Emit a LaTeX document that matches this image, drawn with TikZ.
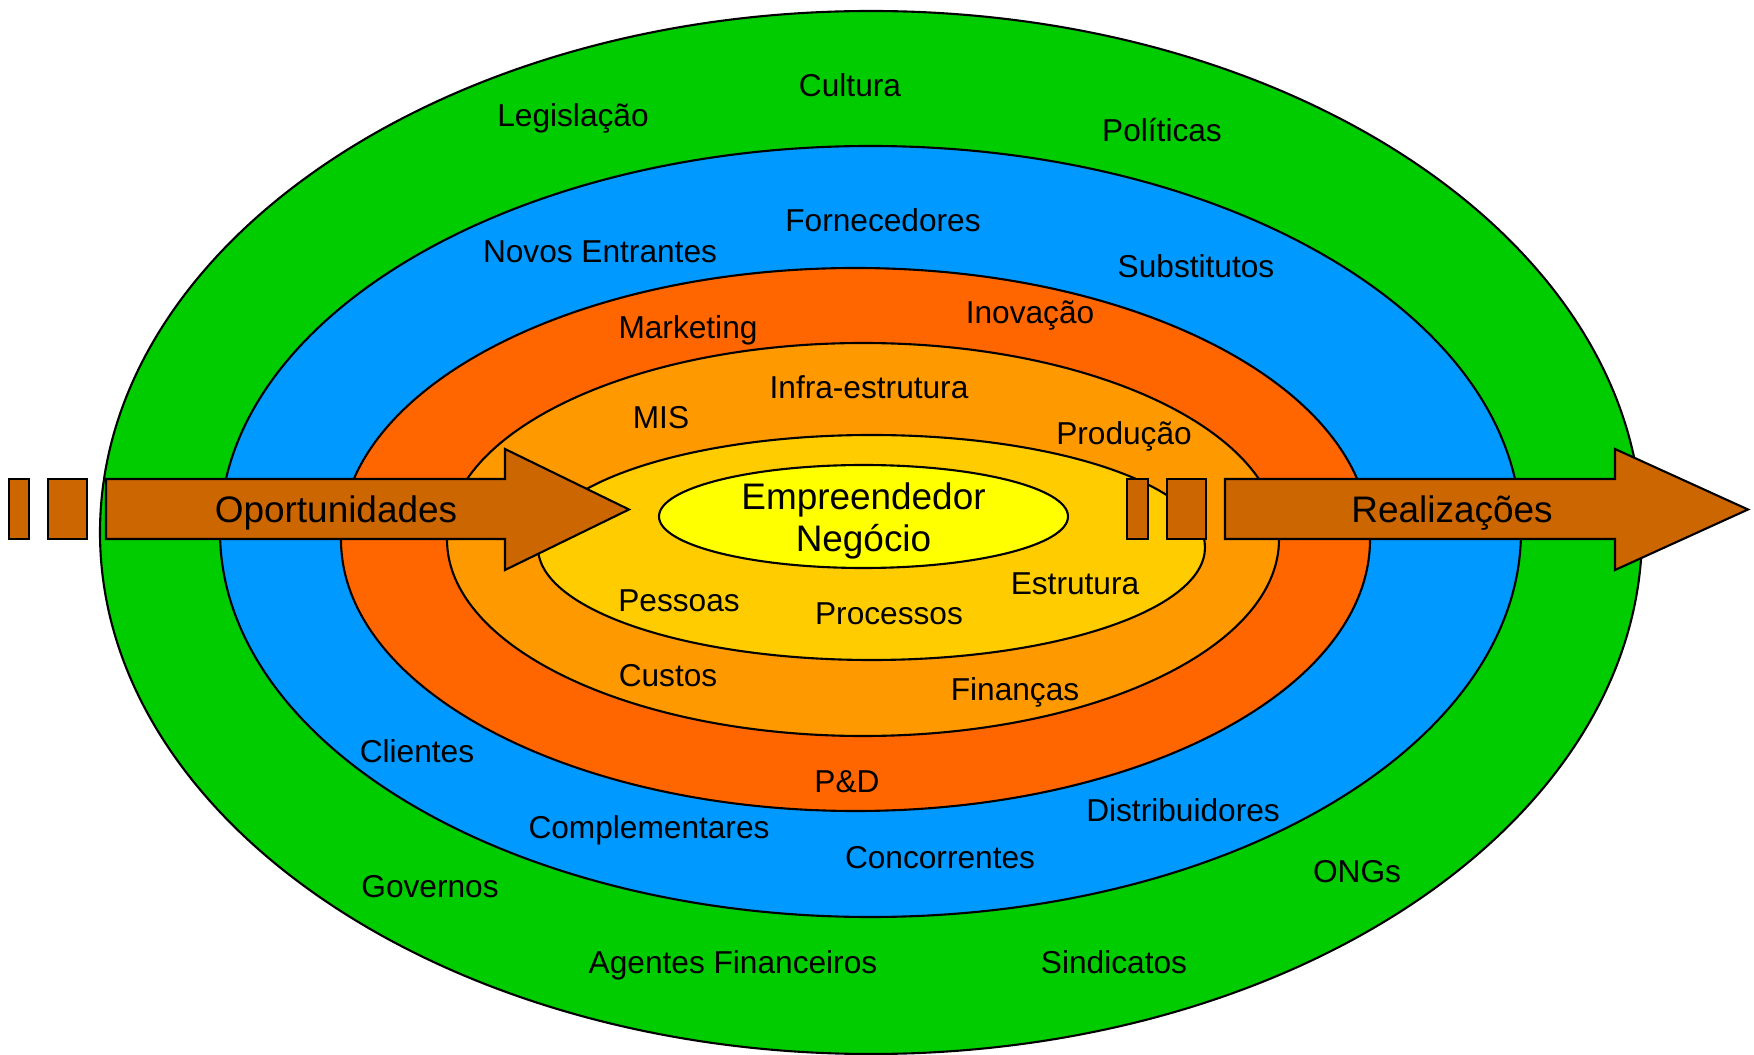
\documentclass[tikz,border=0pt]{standalone}
\usepackage{fontspec}
\setmainfont{Liberation Sans}
\definecolor{envgreen}{HTML}{00CC00}
\definecolor{mktblue}{HTML}{0099FF}
\definecolor{areared}{HTML}{FF6600}
\definecolor{supporange}{HTML}{FF9900}
\definecolor{intgold}{HTML}{FFCC00}
\definecolor{coreyellow}{HTML}{FFFF00}
\definecolor{flowbrown}{HTML}{CC6600}
\begin{document}
\begin{tikzpicture}[x=0.01cm, y=-0.01cm, line width=0.6pt]
\tikzstyle{ring}=[draw=black]
\tikzstyle{lb}=[draw=none, fill=none, inner sep=0pt, anchor=base, font=\fontsize{9}{10.8}\selectfont]
\tikzstyle{big}=[lb, font=\fontsize{10.5}{12.2}\selectfont]
\tikzstyle{flow}=[draw=black, fill=flowbrown]
\useasboundingbox (0,0) rectangle (1754,1055);

\draw[ring, fill=envgreen] (871,532.5) ellipse [x radius=771, y radius=521.5];
\draw[ring, fill=mktblue] (870.5,531.5) ellipse [x radius=650.5, y radius=385.5];
\draw[ring, fill=areared] (855.5,539.5) ellipse [x radius=514.5, y radius=271.5];
\draw[ring, fill=supporange] (863,539.5) ellipse [x radius=416, y radius=196.5];
\draw[ring, fill=intgold] (871.5,547.5) ellipse [x radius=333.5, y radius=112.5];
\draw[ring, fill=coreyellow] (863.5,516.5) ellipse [x radius=204.5, y radius=51.5];

\draw[flow] (9,479) rectangle (29,539);
\draw[flow] (48,479) rectangle (87,539);
\draw[flow] (106,479) -- (505,479) -- (505,449) -- (629,509.5) -- (505,570) -- (505,539) -- (106,539) -- cycle;
\draw[flow] (1127,479) rectangle (1148,539);
\draw[flow] (1167,479) rectangle (1206,539);
\draw[flow] (1225,479) -- (1615,479) -- (1615,449) -- (1748,509.5) -- (1615,570) -- (1615,539) -- (1225,539) -- cycle;

\node[big] (oport) at (336,523) {Oportunidades};
\node[big] (realiz) at (1452,523) {Realizações};
\node[big, anchor=center, align=center] (core) at (863.5,521) {Empreendedor\\Negócio};

\node[lb] (cult) at (850,97) {Cultura};
\node[lb] (legis) at (573,127) {Legislação};
\node[lb] (polit) at (1162,142) {Políticas};
\node[lb] (forn) at (883,232) {Fornecedores};
\node[lb] (novos) at (600,263) {Novos Entrantes};
\node[lb] (subst) at (1196,278) {Substitutos};
\node[lb] (mkt) at (688,339) {Marketing};
\node[lb] (inov) at (1030,324) {Inovação};
\node[lb] (infra) at (869,399) {Infra-estrutura};
\node[lb] (mis) at (661,429) {MIS};
\node[lb] (prod) at (1124,445) {Produção};
\node[lb] (pess) at (679,611) {Pessoas};
\node[lb] (proc) at (889,625) {Processos};
\node[lb] (estr) at (1075,595) {Estrutura};
\node[lb] (cust) at (668,686) {Custos};
\node[lb] (fin) at (1015,701) {Finanças};
\node[lb] (cli) at (417,762) {Clientes};
\node[lb] (pd) at (847,792) {P\&D};
\node[lb] (compl) at (649,838) {Complementares};
\node[lb] (distr) at (1183,821) {Distribuidores};
\node[lb] (conc) at (940,868) {Concorrentes};
\node[lb] (ongs) at (1357,882) {ONGs};
\node[lb] (gov) at (430,897) {Governos};
\node[lb] (agfin) at (733,973) {Agentes Financeiros};
\node[lb] (sind) at (1114,973) {Sindicatos};
\end{tikzpicture}
\end{document}
